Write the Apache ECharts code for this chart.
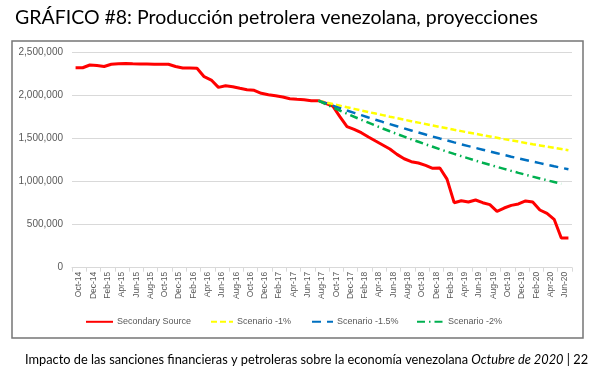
<!DOCTYPE html>
<html><head><meta charset="utf-8">
<script src="https://cdn.jsdelivr.net/npm/echarts/dist/echarts.min.js"></script>
<style>html,body{margin:0;padding:0;background:#fff}#c{width:604px;height:372px}</style>
</head><body><div id="c"></div>
<script>
const months = ['Oct-14','Nov-14','Dec-14','Jan-15','Feb-15','Mar-15','Apr-15','May-15','Jun-15','Jul-15','Aug-15','Sep-15','Oct-15','Nov-15','Dec-15',
'Jan-16','Feb-16','Mar-16','Apr-16','May-16','Jun-16','Jul-16','Aug-16','Sep-16','Oct-16','Nov-16','Dec-16',
'Jan-17','Feb-17','Mar-17','Apr-17','May-17','Jun-17','Jul-17','Aug-17','Sep-17','Oct-17','Nov-17','Dec-17',
'Jan-18','Feb-18','Mar-18','Apr-18','May-18','Jun-18','Jul-18','Aug-18','Sep-18','Oct-18','Nov-18','Dec-18',
'Jan-19','Feb-19','Mar-19','Apr-19','May-19','Jun-19','Jul-19','Aug-19','Sep-19','Oct-19','Nov-19','Dec-19',
'Jan-20','Feb-20','Mar-20','Apr-20','May-20','Jun-20','Jul-20'];
const tickLabels = ['Oct-14','Dec-14','Feb-15','Apr-15','Jun-15','Aug-15','Oct-15','Dec-15','Feb-16','Apr-16','Jun-16','Aug-16',
'Oct-16','Dec-16','Feb-17','Apr-17','Jun-17','Aug-17','Oct-17','Dec-17','Feb-18','Apr-18','Jun-18','Aug-18',
'Oct-18','Dec-18','Feb-19','Apr-19','Jun-19','Aug-19','Oct-19','Dec-19','Feb-20','Apr-20','Jun-20'];
const yTicks = [0, 500000, 1000000, 1500000, 2000000, 2500000];
const secondarySource = [2325000,2325000,2357000,2350000,2340000,2365000,2372000,2375000,2372000,2370000,2368000,2366000,2366000,2365000,2340000,
2322000,2322000,2320000,2221000,2182000,2097000,2116000,2105000,2086000,2070000,2063000,2028000,
2012000,2000000,1985000,1965000,1958000,1953000,1942000,1942000,1912000,1880000,1756000,1640000,
1609000,1570000,1520000,1473000,1427000,1380000,1318000,1267000,1233000,1217000,1190000,1156000,
1159000,1030000,756000,779000,764000,787000,756000,733000,656000,694000,725000,741000,
776000,764000,671000,632000,563000,345000,345000];
const scenarioMonths = months.slice(34);
const scenario1 = [1942000,1923000,1903000,1884000,1865000,1847000,1828000,1810000,1792000,1774000,1756000,1739000,1721000,1704000,1687000,1670000,1654000,1637000,
1621000,1604000,1588000,1572000,1557000,1541000,1526000,1511000,1495000,1480000,1466000,1451000,1436000,1422000,1408000,1394000,1380000,1366000];
const scenario15 = [1942000,1913000,1884000,1856000,1828000,1801000,1774000,1747000,1721000,1695000,1670000,1645000,1620000,1596000,1572000,1548000,1525000,1502000,
1480000,1457000,1435000,1414000,1393000,1372000,1351000,1331000,1311000,1291000,1272000,1253000,1234000,1216000,1197000,1179000,1162000,1144000];
const scenario2 = [1942000,1903000,1865000,1828000,1791000,1755000,1720000,1686000,1652000,1619000,1587000,1555000,1524000,1493000,1464000,1434000,1406000,1378000,
1350000,1323000,1297000,1271000,1245000,1220000,1196000,1172000,1149000,1126000,1103000,1081000,1059000,1038000,1017000,997000,977000];
const seriesNames = ['Secondary Source','Scenario -1%','Scenario -1.5%','Scenario -2%'];

const pairs = (cats, vals) => vals.map((v, i) => [cats[i], v]);
const gray = '#595959';
const legendSpec = [[85, 27], [210, 22], [311, 21], [416, 27]];
const legends = seriesNames.map((name, k) => ({
  data: [name], left: legendSpec[k][0], top: 317, padding: 0, itemWidth: legendSpec[k][1], itemHeight: 12,
  itemStyle: {opacity: 0},
  textStyle: {fontFamily: 'Liberation Sans', fontSize: 9, color: gray, padding: [0, 0, 0, -1]}
}));
const chart = echarts.init(document.getElementById('c'));
chart.setOption({
  animation: false,
  backgroundColor: '#fff',
  title: [
    {text: 'GRÁFICO #8: Producción petrolera venezolana, proyecciones', left: 10, top: 3,
     textStyle: {fontFamily: 'Lato', fontSize: 19.5, fontWeight: 'normal', color: '#000'}},
    {text: '{n|Impacto de las sanciones financieras y petroleras sobre la economía venezolana }{i|Octubre de 2020}{n| | 22}',
     left: 20, top: 348,
     textStyle: {fontWeight: 'normal', rich: {
       n: {fontFamily: 'Lato', fontSize: 12.8, fontWeight: 'normal', color: '#000'},
       i: {fontFamily: 'Lato', fontSize: 12.8, fontWeight: 'normal', color: '#000', fontStyle: 'italic'}}}}
  ],
  graphic: [{type: 'rect', shape: {x: 12, y: 41, width: 571, height: 297}, z: -1,
    style: {fill: 'none', stroke: '#767676', lineWidth: 1.5}}],
  grid: {left: 72, right: 32, top: 52.7, bottom: 104.3},
  legend: legends,
  xAxis: [
    {type: 'category', data: months, boundaryGap: true, show: false, position: 'bottom'},
    {type: 'category', data: tickLabels, boundaryGap: true, position: 'bottom',
     axisLine: {lineStyle: {color: '#d9d9d9', width: 1}},
     axisTick: {show: true, interval: 0, length: 4, lineStyle: {color: '#d9d9d9'}},
     axisLabel: {interval: 0, rotate: 90, fontSize: 8.5, color: gray, fontFamily: 'Liberation Sans', margin: 4},
     splitLine: {show: false}}
  ],
  yAxis: {type: 'value', min: yTicks[0], max: yTicks[yTicks.length - 1], interval: yTicks[1] - yTicks[0],
    axisLine: {show: false}, axisTick: {show: false},
    splitLine: {lineStyle: {color: '#d9d9d9', width: 1}},
    axisLabel: {fontSize: 10, color: gray, fontFamily: 'Liberation Sans', margin: 9,
      formatter: v => v.toLocaleString('en-US')}},
  series: [
    {name: seriesNames[0], type: 'line', xAxisIndex: 0, data: secondarySource, symbol: 'none',
     lineStyle: {color: '#ff0000', width: 3}, itemStyle: {color: '#ff0000'}},
    {name: seriesNames[1], type: 'line', xAxisIndex: 0, data: pairs(scenarioMonths, scenario1), symbol: 'none',
     lineStyle: {color: '#ffff00', width: 2.5, type: [6, 3], cap: 'butt'}, itemStyle: {color: '#ffff00'}},
    {name: seriesNames[2], type: 'line', xAxisIndex: 0, data: pairs(scenarioMonths, scenario15), symbol: 'none',
     lineStyle: {color: '#0070c0', width: 2.5, type: [9, 6], cap: 'butt'}, itemStyle: {color: '#0070c0'}},
    {name: seriesNames[3], type: 'line', xAxisIndex: 0, data: pairs(scenarioMonths, scenario2), symbol: 'none',
     lineStyle: {color: '#00b050', width: 2.5, type: [8, 4, 1.5, 4], cap: 'butt'}, itemStyle: {color: '#00b050'}}
  ]
});
</script></body></html>
